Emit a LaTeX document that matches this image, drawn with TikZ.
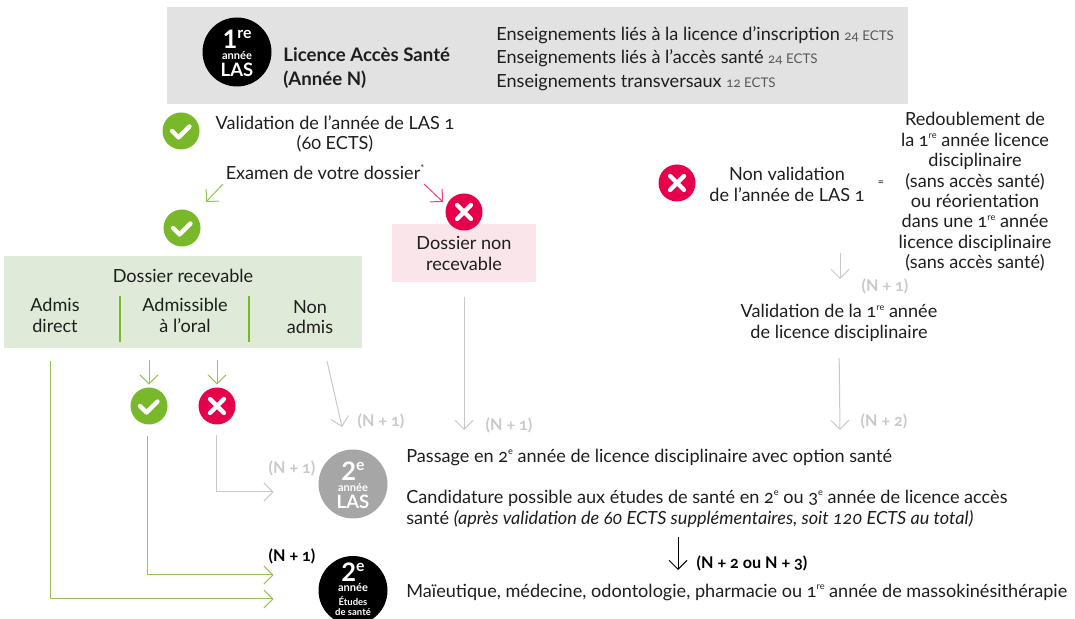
\documentclass[tikz,border=0pt]{standalone}
\usepackage{fontspec}
\setmainfont[Numbers=OldStyle]{Lato}
\usetikzlibrary{arrows.meta}

\definecolor{lasgreen}{HTML}{78B82A}
\definecolor{lasred}{HTML}{E6004C}
\definecolor{lasgrey}{HTML}{E2E2E2}
\definecolor{lasmid}{HTML}{A6A6A6}
\definecolor{laslight}{HTML}{C9C9C9}
\definecolor{lasmint}{HTML}{DFEAD8}
\definecolor{laspink}{HTML}{FAE5EA}
\definecolor{lastext}{HTML}{1E1E1E}

\newcommand{\sizept}[1]{\fontsize{#1}{11.6}\selectfont}
\newcommand{\ordin}[1]{\raisebox{.85ex}{\fontsize{5.2}{6}\selectfont #1}}
\newcommand{\ects}[1]{{\sizept{7.6}\color{black!65}#1}}
\newcommand{\bigline}[2]{{\fontsize{14.5}{14.5}\selectfont\bfseries\addfontfeatures{Numbers=Lining}#1}\raisebox{1.1ex}{\fontsize{9}{9}\selectfont\bfseries #2}}
\newcommand{\anline}{{\fontsize{6.3}{6.3}\selectfont\bfseries année}}
\newcommand{\lasline}{{\fontsize{10.5}{10.5}\selectfont\bfseries LAS}}
\newcommand{\etline}[1]{{\fontsize{5.4}{5.4}\selectfont\bfseries #1}}

\tikzset{
  txt/.style={inner sep=0pt,text=lastext,align=center,font=\sizept{10.3}},
  txtleft/.style={txt,anchor=west,align=left},
  nplus/.style={inner sep=0pt,text=laslight,font=\sizept{9.2}\bfseries},
  okmark/.style={circle,fill=lasgreen,minimum size=7.4mm,inner sep=0pt,
    path picture={\draw[white,line width=.85mm,line cap=round,line join=round]
      ([shift={(-9,0)}]path picture bounding box.center) -- ++(6.5,6.5) -- ++(11,-11);}},
  nomark/.style={circle,fill=lasred,minimum size=7.4mm,inner sep=0pt,
    path picture={\draw[white,line width=.85mm,line cap=round]
      ([shift={(-7,-7)}]path picture bounding box.center) -- ++(14,14)
      ([shift={(7,-7)}]path picture bounding box.center) -- ++(-14,14);}},
  badge/.style={circle,minimum size=13.8mm,inner sep=0pt},
  badgetxt/.style={inner sep=0pt,text=white,align=center},
  tip/.style={-{Straight Barb[length=1.8mm,width=3.6mm]}},
  greenline/.style={tip,draw=lasgreen!80,line width=.2mm},
  redline/.style={tip,draw=lasred!75,line width=.2mm},
  greyline/.style={tip,draw=laslight,line width=.2mm},
  blackline/.style={tip,draw=black,line width=.2mm},
}

\begin{document}
\begin{tikzpicture}[x=0.2mm,y=-0.2mm]
\clip (0,0) rectangle (1075,619);

%top box
\node[fill=lasgrey,minimum width=148.2mm,minimum height=19.4mm,inner sep=0pt] (topbox) at (537.5,55.5) {};
\node[badge,fill=black] (first) at (237,52) {};
\node[badgetxt] (firsttxt) at (237,53.5) {\bigline{1}{re}\\[-5.8pt]\anline\\[-2.4pt]\lasline};
\node[txtleft,font=\sizept{10.6}\bfseries] (lasname) at (283,54.5) {Licence Accès Santé};
\node[txtleft,font=\sizept{10.6}\bfseries] (lasyear) at (283,80) {(Année N)};
\node[txtleft] (ens1) at (496,35) {Enseignements liés à la licence d'inscription \ects{24 ECTS}};
\node[txtleft] (ens2) at (496,58.5) {Enseignements liés à l'accès santé \ects{24 ECTS}};
\node[txtleft] (ens3) at (496,82.5) {Enseignements transversaux \ects{12 ECTS}};

%left side
\node[okmark] (okval) at (181,131) {};
\node[txt] (valid) at (335,134) {Validation de l'année de LAS 1\\(60 ECTS)};
\node[txt] (exam) at (325,172) {Examen de votre dossier\ordin{*}};
\node[okmark] (okdos) at (182,228) {};
\node[fill=laspink,minimum width=28.8mm,minimum height=11.6mm,inner sep=0pt,align=center,text=lastext,font=\sizept{10.3}] (dosno) at (464,253.5) {Dossier non\\recevable};
\node[nomark] (nodos) at (464,212) {};
\coordinate (examl) at (223,184);
\coordinate (examr) at (424,184);
\draw[greenline] (examl) -- (206,202);
\draw[redline] (examr) -- (443,202);

%green box
\node[fill=lasmint,minimum width=71.6mm,minimum height=18.4mm,inner sep=0pt] (recv) at (183,302) {};
\node[txt] (dosyes) at (183,276) {Dossier recevable};
\node[txt] (admis) at (55,315.5) {Admis\\direct};
\node[txt] (oral) at (185,315.5) {Admissible\\à l'oral};
\node[txt] (nonadm) at (310,317) {Non\\admis};
\draw[lasgreen,line width=.32mm] (120,296) -- (120,342) (249,296) -- (249,342);

\node[okmark] (okoral) at (149,406) {};
\node[nomark] (nooral) at (217,406) {};
\coordinate (okout) at (149,360);
\coordinate (noout) at (217,360);
\draw[greenline,shorten >=.5mm] (okout) -- (okoral.north);
\draw[greenline,shorten >=.5mm] (noout) -- (nooral.north);

%2e LAS
\node[badge,fill=lasmid] (second) at (353,484) {};
\node[badgetxt] (secondtxt) at (353,485) {\bigline{2}{e}\\[-5.8pt]\anline\\[-2.4pt]\lasline};
\node[nplus] (n1a) at (381,421) {(N + 1)};
\node[nplus] (n1b) at (509,425) {(N + 1)};
\node[nplus] (n1c) at (292,468) {(N + 1)};
\node[txtleft] (pass) at (406,457.5) {Passage en 2\ordin{e} année de licence disciplinaire avec option santé};
\node[txtleft] (cand) at (406,498.5) {Candidature possible aux études de santé en 2\ordin{e} ou 3\ordin{e} année de licence accès};
\node[txtleft] (cand2) at (406,519) {santé {\itshape(après validation de 60 ECTS supplémentaires, soit 120 ECTS au total)}};
\coordinate (nonout) at (327,361);
\coordinate (nonend) at (342,427);
\draw[greyline] (nonout) -- (nonend);
\coordinate (dosend) at (464,430);
\draw[greyline,shorten <=2.8mm] (dosno.south) -- (dosend);
\draw[greyline,shorten <=2mm,shorten >=8.9mm] ([xshift=-.2mm]nooral.south) |- ([yshift=-1.6mm]second.west);

%2e etudes
\node[badge,fill=black] (third) at (353,590.5) {};
\node[badgetxt] (thirdtxt) at (353,589) {\bigline{2}{e}\\[-6.2pt]\anline\\[-4.1pt]\etline{Études}\\[-6.3pt]\etline{de santé}};
\node[nplus,text=black] (n1d) at (292,556) {(N + 1)};
\node[nplus,text=black] (n2c) at (752,563) {(N + 2 ou N + 3)};
\node[txtleft] (final) at (406,592.5) {Maïeutique, médecine, odontologie, pharmacie ou 1\ordin{re} année de massokinésithérapie};
\coordinate (finalup) at (678,537);
\coordinate (finaldn) at (678,570);
\draw[blackline] (finalup) -- (finaldn);
\draw[greenline,shorten <=2.3mm,shorten >=8.9mm] ([xshift=-.4mm]okoral.south) |- ([yshift=3.1mm]third.west);
\coordinate (admisout) at (50,361);
\draw[greenline,shorten >=8.9mm] (admisout) |- ([yshift=-1.7mm]third.west);

%right side
\node[nomark] (noval) at (677,183) {};
\node[txt] (nonval) at (787,184.5) {Non validation\\de l'année de LAS 1};
\node[txt,font=\sizept{6.5}] (equal) at (881,183) {=};
\node[txt] (redo) at (975,192) {Redoublement de\\la 1\ordin{re} année licence\\disciplinaire\\(sans accès santé)\\ou réorientation\\dans une 1\ordin{re} année\\licence disciplinaire\\(sans accès santé)};
\node[nplus] (n1e) at (885,286) {(N + 1)};
\node[txt] (valnext) at (839,323) {Validation de la 1\ordin{re} année\\de licence disciplinaire};
\node[nplus] (n2e) at (884,421) {(N + 2)};
\coordinate (redoup) at (840,253);
\coordinate (redodn) at (840,279);
\draw[greyline] (redoup) -- (redodn);
\coordinate (nextend) at (840,430);
\draw[greyline,shorten <=3.2mm] (valnext.south) -- (nextend);
\end{tikzpicture}
\end{document}
